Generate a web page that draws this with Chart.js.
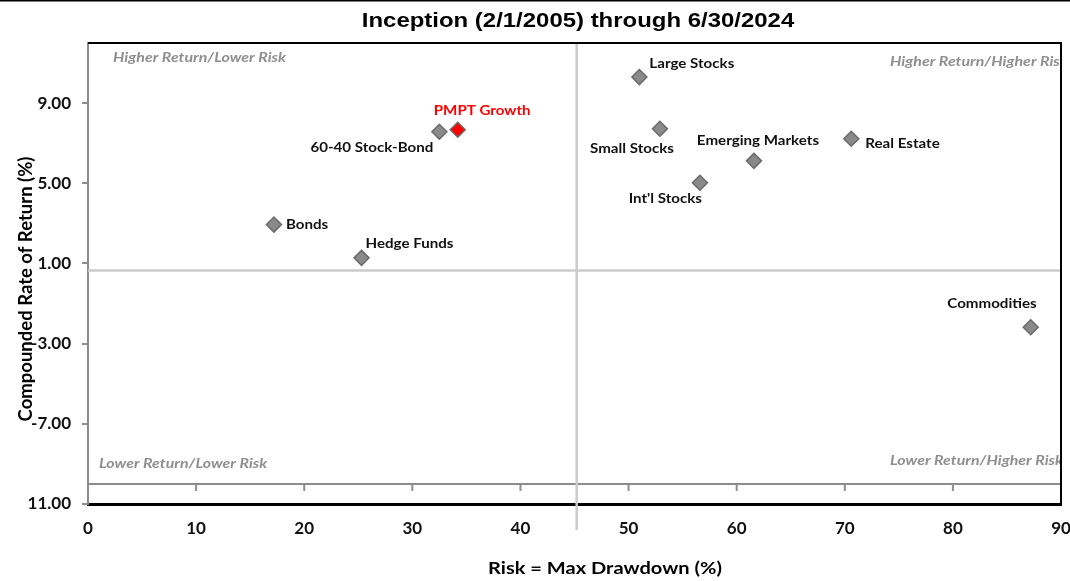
<!DOCTYPE html>
<html lang="en">
<head>
  <meta charset="UTF-8" />
  <title>Risk vs Return – Inception (2/1/2005) through 6/30/2024</title>
  <style>
    html, body { margin: 0; padding: 0; background: #fff; }
    #wrap { width: 1070px; height: 581px; }
  </style>
  <script src="https://cdn.jsdelivr.net/npm/chart.js"></script>
</head>
<body>

<div id="wrap"><canvas id="riskChart" width="1070" height="581"></canvas></div>

<script>
  // values (risk = max drawdown %, return = compounded %)
  const names = ["Bonds", "Hedge Funds", "60-40 Stock-Bond", "PMPT Growth", "Large Stocks",
                 "Small Stocks", "Int'l Stocks", "Emerging Markets", "Real Estate", "Commodities"];
  const risk = [17.2, 25.3, 32.5, 34.2, 51.0, 52.9, 56.6, 61.6, 70.6, 87.2];
  const ret  = [2.94, 1.28, 7.57, 7.67, 10.3, 7.72, 5.03, 6.12, 7.22, -2.18];

  const xTicks = [0, 10, 20, 30, 40, 50, 60, 70, 80, 90];
  const yTicks = [-11, -7, -3, 1, 5, 9];
  const yTickLabels = ["11.00", "-7.00", "-3.00", "1.00", "5.00", "9.00"];

  const quadRisk = 45.2;   // vertical divider
  const quadReturn = 0.65; // horizontal divider
  const baseReturn = -10;  // gray x axis line
  const highlight = "PMPT Growth";

  // where each label sits relative to its marker (pixels)
  const labelPos = {
    "Bonds":            { dx: 12,  dy: 0,   align: "left" },
    "Hedge Funds":      { dx: 4,   dy: -14, align: "left" },
    "60-40 Stock-Bond": { dx: -6,  dy: 16,  align: "right" },
    "PMPT Growth":      { dx: -24, dy: -19, align: "left" },
    "Large Stocks":     { dx: 10,  dy: -14, align: "left" },
    "Small Stocks":     { dx: 14,  dy: 20,  align: "right" },
    "Int'l Stocks":     { dx: 2,   dy: 16,  align: "right" },
    "Emerging Markets": { dx: 4,   dy: -20, align: "center" },
    "Real Estate":      { dx: 14,  dy: 5,   align: "left" },
    "Commodities":      { dx: 6,   dy: -24, align: "right" }
  };

  const quadLabels = [
    { text: "Higher Return/Lower Risk",  x: 113, y: 57 },
    { text: "Higher Return/Higher Risk", x: 890, y: 61 },
    { text: "Lower Return/Lower Risk",   x: 99,  y: 463 },
    { text: "Lower Return/Higher Risk",  x: 890, y: 460 }
  ];

  const GRAY_AXIS = "#8c8c8c";
  const GRAY_QUAD = "#cbcbcb";

  // text drawn a little wider than the font, like the original picture
  function wideText(ctx, text, x, y, sx) {
    ctx.save();
    ctx.translate(x, y);
    ctx.scale(sx, 1);
    ctx.fillText(text, 0, 0);
    ctx.restore();
  }

  const decor = {
    id: "decor",
    afterDatasetsDraw(chart) {
      const { ctx, chartArea: a, scales: { x, y } } = chart;
      ctx.save();

      // tick marks hanging from the gray axis line
      const yb = y.getPixelForValue(baseReturn);
      ctx.strokeStyle = GRAY_AXIS;
      ctx.lineWidth = 2;
      xTicks.slice(1).forEach(t => {
        const px = x.getPixelForValue(t);
        ctx.beginPath();
        ctx.moveTo(px, yb);
        ctx.lineTo(px, yb + 7);
        ctx.stroke();
      });

      // quadrant captions, clipped at the plot edge
      ctx.save();
      ctx.beginPath();
      ctx.rect(a.left, a.top, a.right - a.left, a.bottom - a.top);
      ctx.clip();
      ctx.font = "italic bold 14px Lato";
      ctx.fillStyle = "#8f8f8f";
      ctx.textBaseline = "middle";
      ctx.textAlign = "left";
      quadLabels.forEach(q => wideText(ctx, q.text, q.x, q.y, 1.14));
      ctx.restore();

      // point labels
      const meta = chart.getDatasetMeta(0);
      ctx.font = "bold 14px Lato";
      ctx.textBaseline = "middle";
      meta.data.forEach((pt, i) => {
        const p = labelPos[names[i]];
        ctx.textAlign = p.align;
        ctx.fillStyle = names[i] === highlight ? "#ff0000" : "#111";
        wideText(ctx, names[i], pt.x + p.dx, pt.y + p.dy, 1.08);
      });

      // black frame top and right
      ctx.strokeStyle = "#000";
      ctx.lineWidth = 2;
      ctx.beginPath();
      ctx.moveTo(a.left, a.top);
      ctx.lineTo(a.right, a.top);
      ctx.lineTo(a.right, a.bottom);
      ctx.stroke();
      ctx.restore();
    },
    afterDraw(chart) {
      const { ctx } = chart;
      ctx.save();
      ctx.fillStyle = "#000";
      ctx.fillRect(0, 0, chart.width, 1.5);

      ctx.textAlign = "center";
      ctx.textBaseline = "middle";
      ctx.font = "bold 21px 'Liberation Sans', Arial";
      wideText(ctx, "Inception (2/1/2005) through 6/30/2024", 578, 21, 1.14);

      ctx.font = "bold 17px Lato";
      wideText(ctx, "Risk = Max Drawdown (%)", 605, 569, 1.18);

      ctx.font = "bold 18.5px Lato";
      ctx.translate(26, 289);
      ctx.rotate(-Math.PI / 2);
      ctx.fillText("Compounded Rate of Return (%)", 0, 0);
      ctx.restore();
    }
  };

  const points = names.map((n, i) => ({ x: risk[i], y: ret[i] }));

  new Chart(document.getElementById("riskChart"), {
    type: "scatter",
    data: {
      datasets: [
        {
          data: points,
          pointStyle: "rectRot",
          pointRadius: 7.5,
          pointHoverRadius: 7.5,
          backgroundColor: names.map(n => n === highlight ? "#ff0000" : "#8a8a8a"),
          borderColor: "#6b6b6b",
          borderWidth: 1.5
        },
        {
          type: "line",
          data: [{ x: 0, y: quadReturn }, { x: 90, y: quadReturn }],
          borderColor: GRAY_QUAD, borderWidth: 2.5, pointRadius: 0
        },
        {
          type: "line",
          data: [{ x: quadRisk, y: 12 }, { x: quadRisk, y: -12.3 }],
          borderColor: GRAY_QUAD, borderWidth: 2.5, pointRadius: 0, clip: false
        },
        {
          type: "line",
          data: [{ x: 0, y: baseReturn }, { x: 90, y: baseReturn }],
          borderColor: GRAY_AXIS, borderWidth: 2, pointRadius: 0
        }
      ]
    },
    options: {
      responsive: false,
      animation: false,
      layout: { padding: { top: 43, right: 5, left: 0, bottom: 0 } },
      plugins: {
        legend: { display: false },
        tooltip: { enabled: false },
        title: { display: false }
      },
      scales: {
        x: {
          type: "linear",
          min: 0,
          max: 90,
          afterBuildTicks: s => { s.ticks = xTicks.map(v => ({ value: v })); },
          afterFit: s => { s.height = 77; s.paddingLeft = 0; s.paddingRight = 0; },
          grid: { display: false, drawTicks: false },
          border: { display: true, color: "#000", width: 3 },
          ticks: {
            padding: 14,
            color: "#111",
            font: { family: "Lato", weight: "bold", size: 17 }
          }
        },
        y: {
          type: "linear",
          min: -11,
          max: 12,
          afterBuildTicks: s => { s.ticks = yTicks.map(v => ({ value: v })); },
          afterFit: s => { s.width = 88; s.paddingTop = 0; s.paddingBottom = 0; },
          grid: {
            drawOnChartArea: false,
            drawTicks: true,
            tickLength: 6,
            color: GRAY_AXIS,
            lineWidth: 2
          },
          border: { display: true, color: GRAY_AXIS, width: 2 },
          ticks: {
            padding: 11,
            color: "#111",
            font: { family: "Lato", weight: "bold", size: 17 },
            callback: v => yTickLabels[yTicks.indexOf(v)]
          }
        }
      }
    },
    plugins: [decor]
  });
</script>

</body>
</html>
